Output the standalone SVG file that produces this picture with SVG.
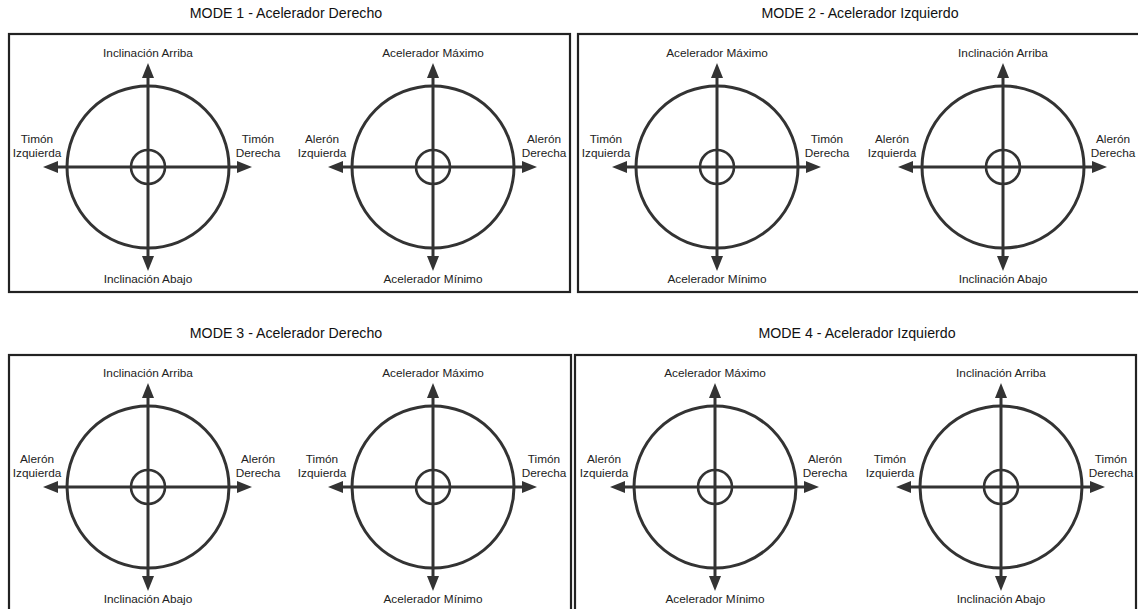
<svg xmlns="http://www.w3.org/2000/svg" xmlns:xlink="http://www.w3.org/1999/xlink" width="1138" height="609" viewBox="0 0 1138 609">
<style>
.panel{fill:none;stroke:#222;stroke-width:2.2}
.title{font-family:"Liberation Sans",Arial,sans-serif;font-size:14.2px;fill:#111;text-anchor:middle}
.lbl{font-family:"Liberation Sans",Arial,sans-serif;font-size:11.8px;fill:#222;text-anchor:middle}
.ring{fill:none;stroke:#333;stroke-width:3}
.hub{fill:none;stroke:#333;stroke-width:2.6}
.axis{stroke:#333;stroke-width:3;fill:none}
.head{fill:#333}
</style>
<defs>
<g id="stick">
<circle class="ring" cx="0" cy="0" r="81"/>
<circle class="hub" cx="0" cy="0" r="17"/>
<line class="axis" x1="0" y1="-91" x2="0" y2="91"/>
<line class="axis" x1="-91" y1="0" x2="91" y2="0"/>
<polygon class="head" points="0,-104 -6,-89 6,-89"/>
<polygon class="head" points="0,104 -6,89 6,89"/>
<polygon class="head" points="-105,0 -90,-6 -90,6"/>
<polygon class="head" points="104,0 89,-6 89,6"/>
</g>
</defs>

<g id="mode1">
<text class="title" x="286" y="18">MODE 1 - Acelerador Derecho</text>
<rect class="panel" x="9" y="34" width="561" height="258"/>
<g id="m1-left">
<use xlink:href="#stick" href="#stick" x="148" y="167"/>
<text class="lbl" x="148" y="57">Inclinación Arriba</text>
<text class="lbl" x="148" y="283">Inclinación Abajo</text>
<text class="lbl" x="37" y="143">Timón</text><text class="lbl" x="37" y="157">Izquierda</text>
<text class="lbl" x="258" y="143">Timón</text><text class="lbl" x="258" y="157">Derecha</text>
</g>
<g id="m1-right">
<use xlink:href="#stick" href="#stick" x="433" y="167"/>
<text class="lbl" x="433" y="57">Acelerador Máximo</text>
<text class="lbl" x="433" y="283">Acelerador Mínimo</text>
<text class="lbl" x="322" y="143">Alerón</text><text class="lbl" x="322" y="157">Izquierda</text>
<text class="lbl" x="544" y="143">Alerón</text><text class="lbl" x="544" y="157">Derecha</text>
</g>
</g>

<g id="mode2">
<text class="title" x="860" y="18">MODE 2 - Acelerador Izquierdo</text>
<rect class="panel" x="578" y="34" width="566" height="258"/>
<g id="m2-left">
<use xlink:href="#stick" href="#stick" x="717" y="167"/>
<text class="lbl" x="717" y="57">Acelerador Máximo</text>
<text class="lbl" x="717" y="283">Acelerador Mínimo</text>
<text class="lbl" x="606" y="143">Timón</text><text class="lbl" x="606" y="157">Izquierda</text>
<text class="lbl" x="827" y="143">Timón</text><text class="lbl" x="827" y="157">Derecha</text>
</g>
<g id="m2-right">
<use xlink:href="#stick" href="#stick" x="1003" y="167"/>
<text class="lbl" x="1003" y="57">Inclinación Arriba</text>
<text class="lbl" x="1003" y="283">Inclinación Abajo</text>
<text class="lbl" x="892" y="143">Alerón</text><text class="lbl" x="892" y="157">Izquierda</text>
<text class="lbl" x="1113" y="143">Alerón</text><text class="lbl" x="1113" y="157">Derecha</text>
</g>
</g>

<g id="mode3">
<text class="title" x="286" y="338">MODE 3 - Acelerador Derecho</text>
<rect class="panel" x="9" y="355" width="562" height="262"/>
<g id="m3-left">
<use xlink:href="#stick" href="#stick" x="148" y="487"/>
<text class="lbl" x="148" y="377">Inclinación Arriba</text>
<text class="lbl" x="148" y="603">Inclinación Abajo</text>
<text class="lbl" x="37" y="463">Alerón</text><text class="lbl" x="37" y="477">Izquierda</text>
<text class="lbl" x="258" y="463">Alerón</text><text class="lbl" x="258" y="477">Derecha</text>
</g>
<g id="m3-right">
<use xlink:href="#stick" href="#stick" x="433" y="487"/>
<text class="lbl" x="433" y="377">Acelerador Máximo</text>
<text class="lbl" x="433" y="603">Acelerador Mínimo</text>
<text class="lbl" x="322" y="463">Timón</text><text class="lbl" x="322" y="477">Izquierda</text>
<text class="lbl" x="544" y="463">Timón</text><text class="lbl" x="544" y="477">Derecha</text>
</g>
</g>

<g id="mode4">
<text class="title" x="857" y="338">MODE 4 - Acelerador Izquierdo</text>
<rect class="panel" x="575" y="355" width="561" height="262"/>
<g id="m4-left">
<use xlink:href="#stick" href="#stick" x="715" y="487"/>
<text class="lbl" x="715" y="377">Acelerador Máximo</text>
<text class="lbl" x="715" y="603">Acelerador Mínimo</text>
<text class="lbl" x="604" y="463">Alerón</text><text class="lbl" x="604" y="477">Izquierda</text>
<text class="lbl" x="825" y="463">Alerón</text><text class="lbl" x="825" y="477">Derecha</text>
</g>
<g id="m4-right">
<use xlink:href="#stick" href="#stick" x="1001" y="487"/>
<text class="lbl" x="1001" y="377">Inclinación Arriba</text>
<text class="lbl" x="1001" y="603">Inclinación Abajo</text>
<text class="lbl" x="890" y="463">Timón</text><text class="lbl" x="890" y="477">Izquierda</text>
<text class="lbl" x="1111" y="463">Timón</text><text class="lbl" x="1111" y="477">Derecha</text>
</g>
</g>
</svg>
